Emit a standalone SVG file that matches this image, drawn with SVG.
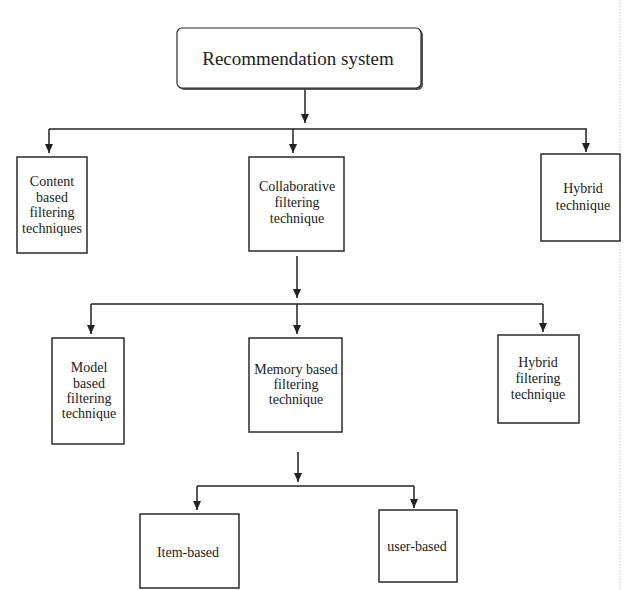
<svg xmlns="http://www.w3.org/2000/svg" width="624" height="590" viewBox="0 0 624 590">
<style>
.box{fill:#fff;stroke:#2a2a2a;stroke-width:1.5}
.t{font-family:"Liberation Serif","Times New Roman",serif;font-size:14px;fill:#222;text-anchor:middle}
.ln{stroke:#222;stroke-width:1.5;fill:none}
.ar{stroke:#222;stroke-width:1.5;fill:none;marker-end:url(#ah)}
</style>
<defs>
<marker id="ah" markerUnits="userSpaceOnUse" markerWidth="10" markerHeight="10" viewBox="0 0 10 10" refX="9" refY="5" orient="auto">
<path d="M0,1 L9,5 L0,9 Z" fill="#222"/>
</marker>
</defs>
<rect width="624" height="590" fill="#fff"/>
<line x1="620" y1="0" x2="620" y2="590" stroke="#c8c8c8" stroke-width="1" stroke-dasharray="1.5,1.5"/>
<g id="connectors">
<line class="ar" x1="305" y1="88" x2="305" y2="123"/>
<line class="ln" x1="49" y1="129" x2="587" y2="129"/>
<line class="ar" x1="49" y1="129" x2="49" y2="153"/>
<line class="ar" x1="293" y1="129" x2="293" y2="153"/>
<line class="ar" x1="586" y1="129" x2="586" y2="152"/>
<line class="ar" x1="297" y1="256" x2="297" y2="298"/>
<line class="ln" x1="91" y1="304" x2="543" y2="304"/>
<line class="ar" x1="91" y1="304" x2="91" y2="334"/>
<line class="ar" x1="297" y1="304" x2="297" y2="334"/>
<line class="ar" x1="543" y1="304" x2="543" y2="332"/>
<line class="ar" x1="298" y1="452" x2="298" y2="482"/>
<line class="ln" x1="197" y1="486" x2="414" y2="486"/>
<line class="ar" x1="197" y1="486" x2="197" y2="510"/>
<line class="ar" x1="414" y1="486" x2="414" y2="508"/>
</g>
<g id="recommendation-system">
<rect x="179" y="30" width="244" height="60" rx="5" fill="#555"/>
<rect x="177" y="28" width="244" height="60" rx="5" fill="#fff" stroke="#2a2a2a" stroke-width="1.2"/>
<text class="t" x="298" y="65" style="font-size:19px">Recommendation system</text>
</g>
<g id="content-based">
<rect class="box" x="17" y="157" width="70" height="96"/>
<text class="t" x="52" y="186">Content</text>
<text class="t" x="52" y="202">based</text>
<text class="t" x="52" y="217">filtering</text>
<text class="t" x="52" y="233">techniques</text>
</g>
<g id="collaborative">
<rect class="box" x="249" y="157" width="95" height="94"/>
<text class="t" x="297" y="191">Collaborative</text>
<text class="t" x="297" y="207">filtering</text>
<text class="t" x="297" y="223">technique</text>
</g>
<g id="hybrid-technique">
<rect class="box" x="541" y="154" width="79" height="87"/>
<text class="t" x="583" y="193">Hybrid</text>
<text class="t" x="583" y="210">technique</text>
</g>
<g id="model-based">
<rect class="box" x="52" y="338" width="72" height="106"/>
<text class="t" x="89" y="372">Model</text>
<text class="t" x="89" y="388">based</text>
<text class="t" x="89" y="403">filtering</text>
<text class="t" x="89" y="418">technique</text>
</g>
<g id="memory-based">
<rect class="box" x="249" y="338" width="93" height="94"/>
<text class="t" x="296" y="374">Memory based</text>
<text class="t" x="296" y="389">filtering</text>
<text class="t" x="296" y="404">technique</text>
</g>
<g id="hybrid-filtering">
<rect class="box" x="498" y="335" width="81" height="88"/>
<text class="t" x="538" y="367">Hybrid</text>
<text class="t" x="538" y="383">filtering</text>
<text class="t" x="538" y="399">technique</text>
</g>
<g id="item-based">
<rect class="box" x="140" y="514" width="99" height="74"/>
<text class="t" x="188" y="557">Item-based</text>
</g>
<g id="user-based">
<rect class="box" x="379" y="510" width="78" height="72"/>
<text class="t" x="417" y="551">user-based</text>
</g>
</svg>
